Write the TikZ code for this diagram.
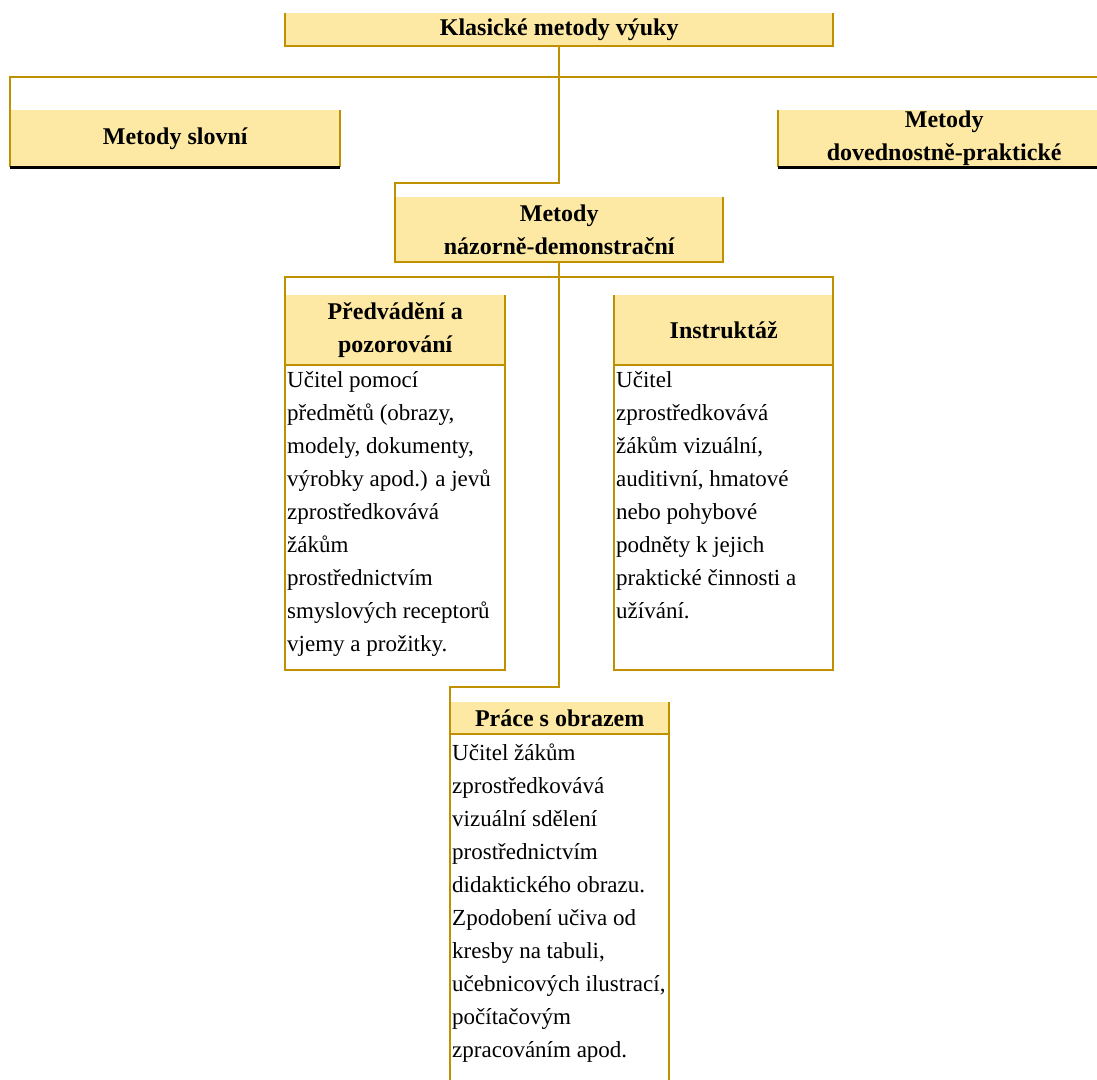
\documentclass[tikz,border=0pt]{standalone}
\usepackage{fontspec}
\setmainfont{Liberation Serif}
\usetikzlibrary{positioning}
\definecolor{hdrfill}{RGB}{253,233,163}
\definecolor{hdrline}{RGB}{191,144,0}

\begin{document}
\begin{tikzpicture}[x=1pt, y=-1pt,
  hdr/.style={fill=hdrfill, anchor=north west, inner sep=0pt, align=center,
              font=\fontsize{24}{33}\selectfont\bfseries},
  body/.style={anchor=north west, inner sep=0pt},
  txt/.style={anchor=north west, inner sep=0pt, align=left,
              font=\fontsize{23}{33}\selectfont},
  edge/.style={draw=hdrline, line width=2pt},
  base/.style={draw=black, line width=2.5pt},
  link/.style={draw=hdrline, line width=2pt}
]
  \path[use as bounding box, clip] (0,0) rectangle (1097,1079);
  \fill[white] (0,0) rectangle (1097,1079);

  \node[hdr, minimum width=548pt, minimum height=33pt] (klas) at (285,13) {Klasické metody výuky};
  \node[hdr, minimum width=330pt, minimum height=57pt] (slovni) at (10,110) {Metody slovní};
  \node[hdr, minimum width=332pt, minimum height=57pt] (prakt) at (778,110) {Metody\\dovednostně-praktické};
  \node[hdr, minimum width=328pt, minimum height=65pt] (nazor) at (395,197) {Metody\\názorně-demonstrační};

  \node[hdr, minimum width=220pt, minimum height=70pt] (predvH) at (285,295) {Předvádění a\\pozorování};
  \node[body, minimum width=220pt, minimum height=305pt] (predvB) at (285,365) {};
  \node[txt] (predvT) at (287,371) {Učitel pomocí\\předmětů (obrazy,\\modely, dokumenty,\\výrobky apod.) a jevů\\zprostředkovává\\žákům\\prostřednictvím\\smyslových receptorů\\vjemy a prožitky.};

  \node[hdr, minimum width=219pt, minimum height=70pt] (instrH) at (614,295) {Instruktáž};
  \node[body, minimum width=219pt, minimum height=305pt] (instrB) at (614,365) {};
  \node[txt] (instrT) at (616,371) {Učitel\\zprostředkovává\\žákům vizuální,\\auditivní, hmatové\\nebo pohybové\\podněty k jejich\\praktické činnosti a\\užívání.};

  \node[hdr, minimum width=219pt, minimum height=32pt] (praceH) at (450,702) {Práce s obrazem};
  \node[body, minimum width=219pt, minimum height=380pt] (praceB) at (450,734) {};
  \node[txt] (praceT) at (452,744) {Učitel žákům\\zprostředkovává\\vizuální sdělení\\prostřednictvím\\didaktického obrazu.\\Zpodobení učiva od\\kresby na tabuli,\\učebnicových ilustrací,\\počítačovým\\zpracováním apod.};

  \draw[link] (klas.south) -- ++(0,31) coordinate (bus1) -| (slovni.north west);
  \draw[link] (bus1) -| (prakt.north east);
  \draw[link] (bus1) -- ++(0,106) -| (nazor.north west);
  \draw[link] (nazor.south) -- ++(0,15) coordinate (bus2) -| (predvH.north west);
  \draw[link] (bus2) -| (instrH.north east);
  \draw[link] (bus2) -- ++(0,410) -| (praceH.north west);

  \draw[edge] (klas.north west) |- (klas.south east) -- (klas.north east);
  \draw[edge] (slovni.north west) -- (slovni.south west);
  \draw[edge] (slovni.north east) -- (slovni.south east);
  \draw[base] (slovni.south west) -- (slovni.south east);
  \draw[edge] (prakt.north west) -- (prakt.south west);
  \draw[base] (prakt.south west) -- (prakt.south east);
  \draw[edge] (nazor.north west) |- (nazor.south east) -- (nazor.north east);

  \draw[edge] (predvH.north west) |- (predvB.south east) -- (predvH.north east);
  \draw[edge] (predvH.south west) -- (predvH.south east);
  \draw[edge] (instrH.north west) |- (instrB.south east) -- (instrH.north east);
  \draw[edge] (instrH.south west) -- (instrH.south east);
  \draw[edge] (praceH.north west) |- (praceB.south east) -- (praceH.north east);
  \draw[edge] (praceH.south west) -- (praceH.south east);
\end{tikzpicture}
\end{document}
